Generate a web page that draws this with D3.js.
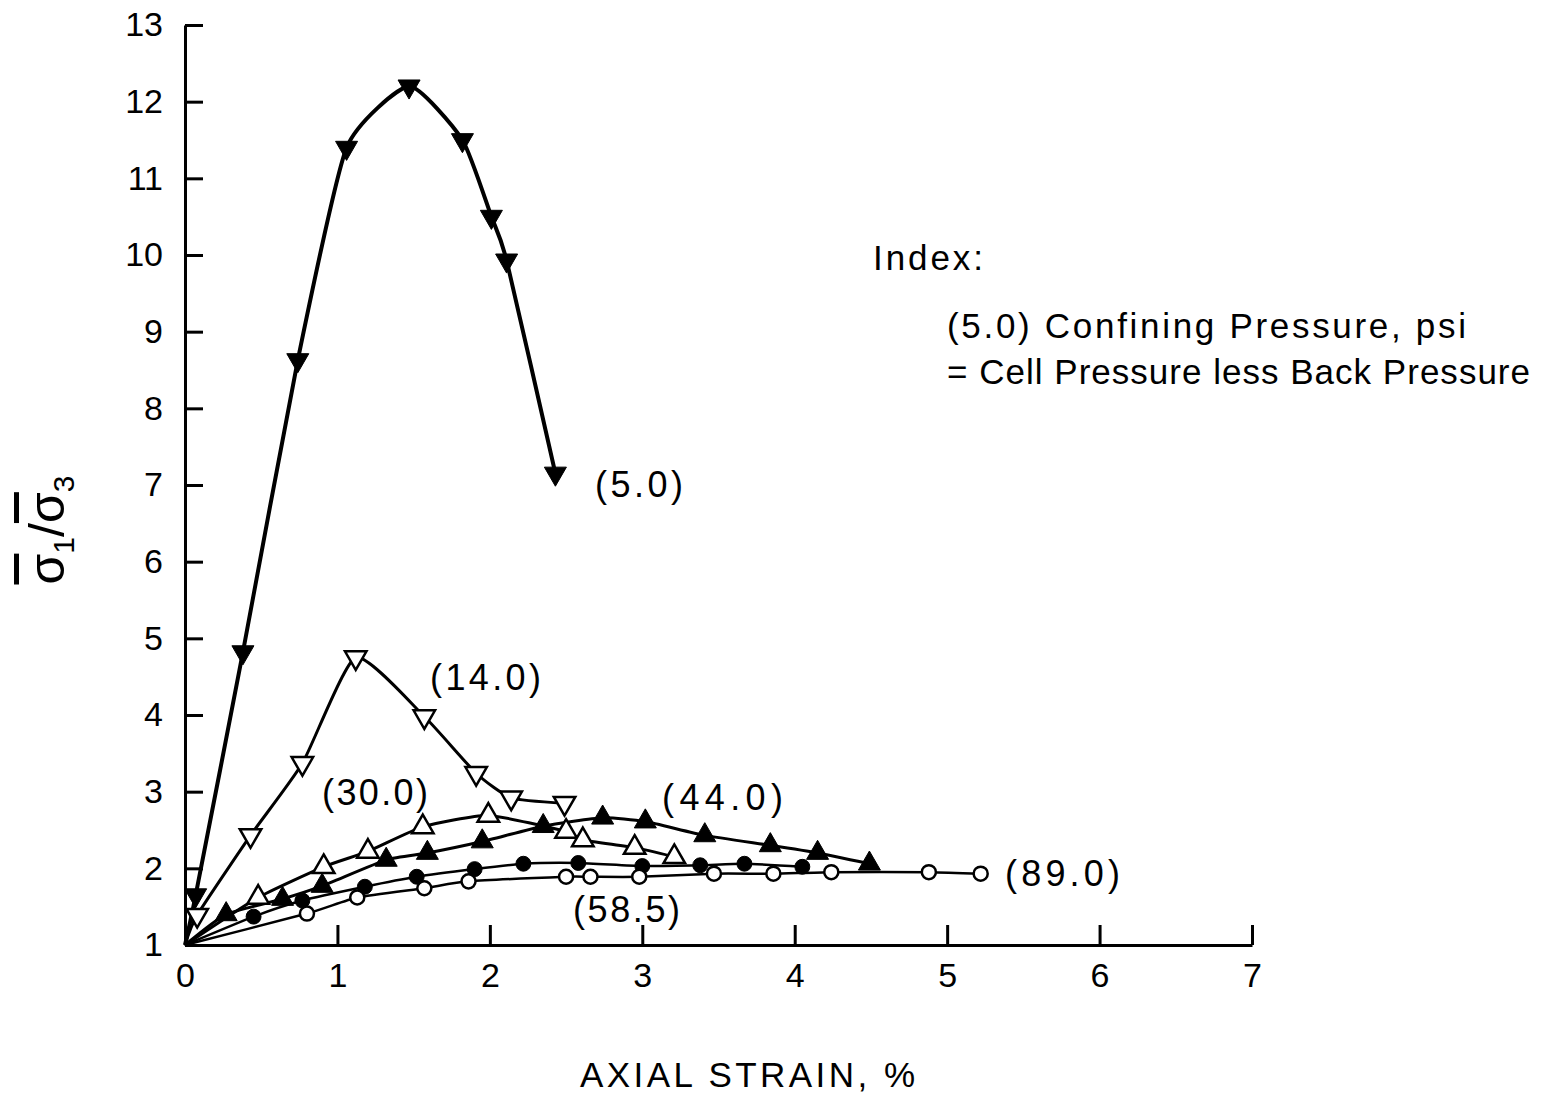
<!DOCTYPE html>
<html>
<head>
<meta charset="utf-8">
<script src="https://cdn.jsdelivr.net/npm/d3@7"></script>
<style>
  body { margin: 0; background: #fff; }
  svg { display: block; }
  text { font-family: "Liberation Sans", "DejaVu Sans", sans-serif; fill: #000; }
</style>
</head>
<body>
<svg id="chart" width="1541" height="1094"></svg>
<script>
// axis ticks
var xTicks = [0, 1, 2, 3, 4, 5, 6, 7];
var yTicks = [1, 2, 3, 4, 5, 6, 7, 8, 9, 10, 11, 12, 13];

// (5.0) psi - filled down triangles
var strain50 = [0.07, 0.38, 0.74, 1.06, 1.47, 1.82, 2.01, 2.11, 2.43];
var ratio50  = [1.65, 4.82, 8.63, 11.4, 12.2, 11.5, 10.5, 9.93, 7.15];

// (14.0) psi - open down triangles
var strain140 = [0.08, 0.43, 0.77, 1.12, 1.57, 1.91, 2.14, 2.49];
var ratio140  = [1.39, 2.43, 3.37, 4.75, 3.98, 3.24, 2.92, 2.85];

// (30.0) psi - open up triangles
var strain300 = [0.48, 0.91, 1.2, 1.56, 1.99, 2.5, 2.61, 2.95, 3.21];
var ratio300  = [1.62, 2.02, 2.22, 2.54, 2.69, 2.48, 2.37, 2.27, 2.15];

// (44.0) psi - filled up triangles
var strain440 = [0.27, 0.64, 0.9, 1.32, 1.59, 1.95, 2.35, 2.74, 3.02, 3.41, 3.84, 4.15, 4.49];
var ratio440  = [1.4, 1.6, 1.77, 2.11, 2.2, 2.35, 2.55, 2.66, 2.61, 2.43, 2.3, 2.2, 2.06];

// (58.5) psi - filled circles
var strain585 = [0.45, 0.77, 1.18, 1.52, 1.9, 2.22, 2.58, 3.0, 3.38, 3.67, 4.05];
var ratio585  = [1.37, 1.58, 1.76, 1.89, 1.99, 2.06, 2.07, 2.03, 2.04, 2.06, 2.02];

// (89.0) psi - open circles
var strain890 = [0.8, 1.13, 1.57, 1.86, 2.5, 2.66, 2.98, 3.47, 3.86, 4.24, 4.88, 5.22];
var ratio890  = [1.41, 1.62, 1.74, 1.83, 1.89, 1.89, 1.89, 1.93, 1.93, 1.95, 1.95, 1.93];

var svg = d3.select("#chart");

var x = d3.scaleLinear().domain([0, 7]).range([185, 1252]);
var y = d3.scaleLinear().domain([1, 13]).range([945, 25]);

//AXES
var xAxis = d3.axisBottom(x).tickValues(xTicks).tickSize(-20).tickSizeOuter(0).tickPadding(18)
  .tickFormat(d3.format("d"));
var gx = svg.append("g").attr("transform", "translate(0,945)").call(xAxis);

var yAxis = d3.axisLeft(y).tickValues(yTicks).tickSize(-18).tickSizeOuter(0).tickPadding(22)
  .tickFormat(d3.format("d"));
var gy = svg.append("g").attr("transform", "translate(185,0)").call(yAxis);

[gx, gy].forEach(function(g) {
  g.select(".domain").attr("stroke", "#000").attr("stroke-width", 3);
  g.selectAll(".tick line").attr("stroke", "#000").attr("stroke-width", 3);
  g.selectAll(".tick text").attr("font-size", 34).attr("fill", "#000")
    .style("font-family", "'Liberation Sans', sans-serif");
});

// build series
var series = [
  {sx: strain50,  sy: ratio50,  shape: "down", fill: "#000", width: 4},
  {sx: strain140, sy: ratio140, shape: "down", fill: "#fff", width: 3},
  {sx: strain300, sy: ratio300, shape: "up",   fill: "#fff", width: 3},
  {sx: strain440, sy: ratio440, shape: "up",   fill: "#000", width: 3},
  {sx: strain585, sy: ratio585, shape: "circle", fill: "#000", width: 2.5},
  {sx: strain890, sy: ratio890, shape: "circle", fill: "#fff", width: 2.5}
];

// hand drawn look: tighter cardinal spline (straighter between points)
var line = d3.line()
  .x(function(d) { return x(d[0]); })
  .y(function(d) { return y(d[1]); })
  .curve(d3.curveCardinal.tension(0.45));

series.forEach(function(s) {
  var pts = [[0, 1]];
  for (var i = 0; i < s.sx.length; i++) pts.push([s.sx[i], s.sy[i]]);
  s.pts = pts;
  svg.append("path").attr("d", line(pts))
    .attr("fill", "none").attr("stroke", "#000").attr("stroke-width", s.width);
});

//MARKERS
series.forEach(function(s) {
  var sym;
  if (s.shape == "circle") sym = d3.symbol().type(d3.symbolCircle).size(s.fill == "#000" ? 175 : 155);
  else sym = d3.symbol().type(d3.symbolTriangle).size(s.fill == "#000" ? 210 : 200);
  svg.append("g").selectAll("path")
    .data(s.pts.slice(1)).enter().append("path")
    .attr("d", sym)
    .attr("transform", function(d) {
      var t = "translate(" + x(d[0]) + "," + y(d[1]) + ")";
      if (s.shape == "down") t += " rotate(180)";
      return t;
    })
    .attr("fill", s.fill)
    .attr("stroke", "#000")
    .attr("stroke-width", s.fill == "#000" ? 1 : 2.5);
});

// series labels (w = width)
var labels = [
  {t: "(5.0)",  x: 595,  y: 497, w: 88},
  {t: "(14.0)", x: 430,  y: 690, w: 111},
  {t: "(30.0)", x: 322,  y: 805, w: 106},
  {t: "(44.0)", x: 662,  y: 810, w: 121},
  {t: "(89.0)", x: 1005, y: 886, w: 115},
  {t: "(58.5)", x: 573,  y: 922, w: 107}
];
svg.append("g").selectAll("text").data(labels).enter().append("text")
  .attr("x", function(d) { return d.x; })
  .attr("y", function(d) { return d.y; })
  .attr("font-size", 36)
  .attr("textLength", function(d) { return d.w; })
  .attr("lengthAdjust", "spacing")
  .text(function(d) { return d.t; });

// legend (index)
svg.append("text").attr("x", 873).attr("y", 270).attr("font-size", 35)
  .attr("textLength", 110).attr("lengthAdjust", "spacing").text("Index:");
svg.append("text").attr("x", 947).attr("y", 338).attr("font-size", 35)
  .attr("textLength", 519).attr("lengthAdjust", "spacing")
  .text("(5.0)  Confining Pressure, psi");
svg.append("text").attr("x", 947).attr("y", 384).attr("font-size", 35)
  .attr("textLength", 583).attr("lengthAdjust", "spacing")
  .text("= Cell Pressure less Back Pressure");

// axis titles
svg.append("text").attr("x", 580).attr("y", 1087)
  .attr("font-size", 35).attr("textLength", 335).attr("lengthAdjust", "spacing")
  .text("AXIAL STRAIN, %");

var yl = svg.append("text").attr("transform", "translate(64,530) rotate(-90)")
  .attr("text-anchor", "middle").attr("font-size", 50);
yl.append("tspan").style("text-decoration", "overline").text("\u03C3");
yl.append("tspan").attr("font-size", 30).attr("dy", 10).text("1");
yl.append("tspan").attr("dy", -10).text("/");
yl.append("tspan").style("text-decoration", "overline").text("\u03C3");
yl.append("tspan").attr("font-size", 30).attr("dy", 10).text("3");
</script>
</body>
</html>
